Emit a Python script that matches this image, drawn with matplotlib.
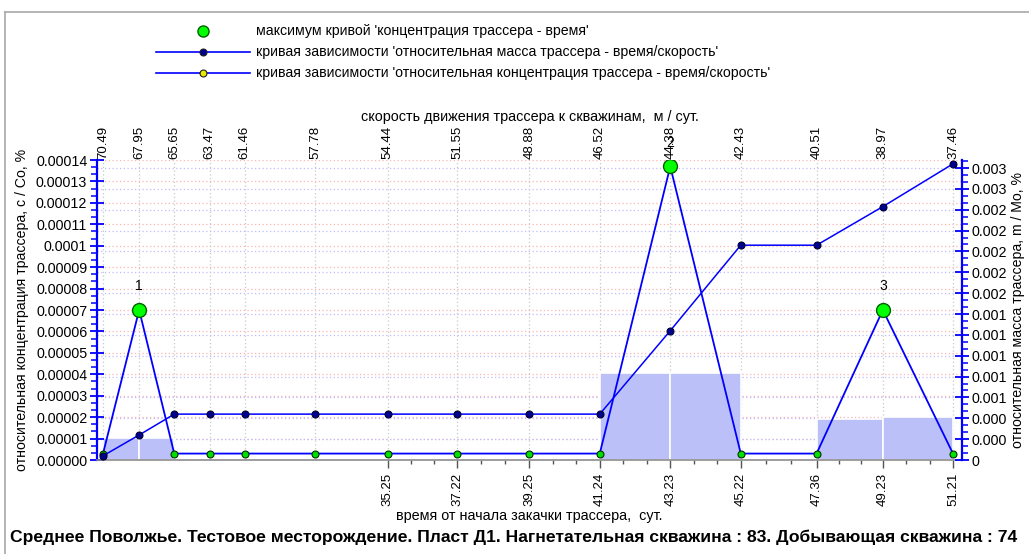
import matplotlib
matplotlib.use("Agg")
import matplotlib.pyplot as plt
from matplotlib.lines import Line2D
from matplotlib.ticker import FixedLocator, AutoMinorLocator
from matplotlib.transforms import blended_transform_factory
import numpy as np

plt.rcParams['font.family'] = ['Liberation Sans', 'DejaVu Sans']

# --- data -------------------------------------------------------------------
time_days = [27.22, 28.24, 29.23, 30.23, 31.22, 33.21, 35.25, 37.22, 39.25,
             41.24, 43.23, 45.22, 47.36, 49.23, 51.21]
speed_labels = ['70.49', '67.95', '65.65', '63.47', '61.46', '57.78', '54.44',
                '51.55', '48.88', '46.52', '44.38', '42.43', '40.51', '38.97',
                '37.46']
# relative tracer concentration c/Co, %
concentration = [0.000003, 0.000070, 0.000003, 0.000003, 0.000003, 0.000003,
                 0.000003, 0.000003, 0.000003, 0.000003, 0.000137, 0.000003,
                 0.000003, 0.000070, 0.000003]
# relative tracer mass m/Mo, %
mass = [0.00004, 0.00024, 0.00044, 0.00044, 0.00044, 0.00044, 0.00044,
        0.00044, 0.00044, 0.00044, 0.00124, 0.00206, 0.00206, 0.00243,
        0.00284]
# histogram bars: start index of the interval and height (c/Co units)
bar_start_idx = [0, 1, 9, 10, 12, 13]
bar_heights = [0.0000105, 0.0000105, 0.0000406, 0.0000406, 0.0000190,
               0.0000200]
peak_labels = ['1', '2', '3']

left_ticks = [i * 0.00001 for i in range(15)]
left_tick_labels = ['0.00000', '0.00001', '0.00002', '0.00003', '0.00004',
                    '0.00005', '0.00006', '0.00007', '0.00008', '0.00009',
                    '0.0001', '0.00011', '0.00012', '0.00013', '0.00014']
right_ticks = [i * 0.0002 for i in range(15)]
right_tick_labels = ['0', '0.000', '0.000', '0.001', '0.001', '0.001', '0.001',
                     '0.001', '0.002', '0.002', '0.002', '0.002', '0.002',
                     '0.003', '0.003']
first_bottom_label = 6   # labels below the axis start from this point

title = ("Среднее Поволжье. Тестовое месторождение. Пласт Д1. "
         "Нагнетательная скважина : 83. Добывающая скважина : 74")
legend_texts = ["максимум кривой 'концентрация трассера - время'",
                "кривая зависимости 'относительная масса трассера - время/скорость'",
                "кривая зависимости 'относительная концентрация трассера - время/скорость'"]

# --- figure -----------------------------------------------------------------
W, H = 1029, 554
fig = plt.figure(figsize=(W / 100, H / 100), dpi=100)
fig.patch.set_facecolor('white')


def fpx(x, y):
    return x / W, 1 - y / H


ax = fig.add_axes([97 / W, 1 - 460 / H, 865 / W, 300 / H])
ax2 = ax.twinx()
axt = ax.twiny()

t = np.array(time_days)
span = t[-1] - t[0]
ax.set_xlim(t[0] - span * 0.0071, t[-1] + span * 0.0106)
axt.set_xlim(ax.get_xlim())
ax.set_ylim(0, 0.00014)
ax2.set_ylim(0, 0.002877)

BLUE = '#0000ff'

# grids: pink for left scale, lavender for right scale, grey verticals
for v in left_ticks[1:]:
    ax.axhline(v, color='#ffb4b4', lw=0.9, ls=(0, (1, 2)), zorder=0.5)
tr_right = blended_transform_factory(ax.transAxes, ax2.transData)
for v in right_ticks[1:]:
    ax.plot([0, 1], [v, v], transform=tr_right, color='#bcbcff', lw=0.9,
            ls=(0, (1, 2)), zorder=0.5)
for x in time_days:
    ax.axvline(x, color='#c8c8c8', lw=0.9, ls=(0, (1, 2)), zorder=0.6)

# bars over the intervals
bx = [time_days[i] for i in bar_start_idx]
bw = [time_days[i + 1] - time_days[i] for i in bar_start_idx]
ax.bar(bx, bar_heights, width=bw, align='edge', color='#bcc0f8',
       edgecolor='white', linewidth=1.2, zorder=1)

# concentration curve
ax.plot(time_days, concentration, color=BLUE, lw=1.3, marker='o',
        markersize=5, markerfacecolor='#00e000', markeredgecolor='#003000',
        markeredgewidth=0.8, zorder=3)
# maxima of the concentration curve
c = np.array(concentration)
peaks = [i for i in range(1, len(c) - 1) if c[i] > c[i - 1] and c[i] > c[i + 1]]
ax.plot(t[peaks], c[peaks], ls='none', marker='o', markersize=10,
        markerfacecolor='#00ff00', markeredgecolor='#006000',
        markeredgewidth=1.0, zorder=4)
for lab, i in zip(peak_labels, peaks):
    ax.annotate(lab, (t[i], c[i]), xytext=(0, 12), textcoords='offset points',
                ha='center', va='bottom', fontsize=10, zorder=5,
                annotation_clip=False)

# mass curve on the right scale
ax2.plot(time_days, mass, color=BLUE, lw=1.1, marker='o', markersize=5,
         markerfacecolor='#000090', markeredgecolor='#000030',
         markeredgewidth=0.8, zorder=3)

# --- axes styling -----------------------------------------------------------
for s in ['top', 'right']:
    ax.spines[s].set_visible(False)
ax.spines['left'].set_color(BLUE)
ax.spines['left'].set_linewidth(1.6)
ax.spines['bottom'].set_color('#8c8c8c')
ax.spines['bottom'].set_linewidth(1.2)
for s in ['top', 'left', 'bottom']:
    ax2.spines[s].set_visible(False)
ax2.spines['right'].set_color(BLUE)
ax2.spines['right'].set_linewidth(1.6)
for s in axt.spines.values():
    s.set_visible(False)

ax.yaxis.set_major_locator(FixedLocator(left_ticks))
ax.set_yticklabels(left_tick_labels, fontsize=10.3)
ax.yaxis.set_minor_locator(AutoMinorLocator(3))
ax.tick_params(axis='y', which='major', direction='inout', length=10,
               width=1.3, color=BLUE, pad=2)
ax.tick_params(axis='y', which='minor', direction='out', length=4,
               width=1.1, color=BLUE)

ax2.yaxis.set_major_locator(FixedLocator(right_ticks))
ax2.set_yticklabels(right_tick_labels, fontsize=10.3)
ax2.yaxis.set_minor_locator(AutoMinorLocator(3))
ax2.tick_params(axis='y', which='major', direction='inout', length=10,
                width=1.3, color=BLUE, pad=2)
ax2.tick_params(axis='y', which='minor', direction='out', length=4,
                width=1.1, color=BLUE)

bottom_t = time_days[first_bottom_label:]
ax.xaxis.set_major_locator(FixedLocator(bottom_t))
ax.set_xticklabels([f'{v:.2f}' for v in bottom_t], rotation=90, fontsize=9.5)
minor_t = []
for a, b in zip(bottom_t[:-1], bottom_t[1:]):
    minor_t += [a + (b - a) / 3, a + 2 * (b - a) / 3]
ax.xaxis.set_minor_locator(FixedLocator(minor_t))
ax.tick_params(axis='x', which='major', direction='out', length=6,
               width=1.0, color='#555555', pad=3)
ax.tick_params(axis='x', which='minor', direction='out', length=3,
               width=1.0, color='#555555')

axt.xaxis.set_major_locator(FixedLocator(time_days))
axt.set_xticklabels(speed_labels, rotation=90, fontsize=9.5)
axt.tick_params(axis='x', which='both', length=0, pad=1)

axt.set_xlabel('скорость движения трассера к скважинам,  м / сут.',
               fontsize=10.4, labelpad=3)
ax.set_xlabel('время от начала закачки трассера,  сут.', fontsize=10.4,
              labelpad=2)
ax.set_ylabel('относительная концентрация трассера, c / Co, %', fontsize=10.2,
              labelpad=5)
ax2.set_ylabel('относительная масса трассера, m / Mo, %', fontsize=10.2,
               labelpad=3)

fig.text(*fpx(514, 537), title, ha='center', va='center', fontsize=12.6,
         fontweight='bold')

# --- legend -----------------------------------------------------------------
rows = [31, 52, 73]
fig.add_artist(Line2D([fpx(203, 0)[0]], [fpx(0, rows[0])[1]],
                      transform=fig.transFigure, ls='none', marker='o',
                      markersize=8, markerfacecolor='#00ff00',
                      markeredgecolor='#006000', markeredgewidth=1.0))
for y, mfc in [(rows[1], '#000090'), (rows[2], '#e8e800')]:
    x0, yy = fpx(156, y)
    x1, _ = fpx(250, y)
    fig.add_artist(Line2D([x0, x1], [yy, yy], transform=fig.transFigure,
                          color=BLUE, lw=1.2))
    fig.add_artist(Line2D([fpx(203, 0)[0]], [yy], transform=fig.transFigure,
                          ls='none', marker='o', markersize=5,
                          markerfacecolor=mfc, markeredgecolor='#202020',
                          markeredgewidth=0.8))
for y, txt in zip(rows, legend_texts):
    fig.text(*fpx(256, y), txt, ha='left', va='center', fontsize=10.2)

# outer frame
fig.add_artist(Line2D([fpx(5, 0)[0], 1], [fpx(0, 12)[1]] * 2,
                      transform=fig.transFigure, color='#a8a8a8', lw=1.2))
fig.add_artist(Line2D([fpx(5, 0)[0]] * 2, [fpx(0, 12)[1], 0],
                      transform=fig.transFigure, color='#a8a8a8', lw=1.2))

fig.savefig('out.png', dpi=100, facecolor='white')
